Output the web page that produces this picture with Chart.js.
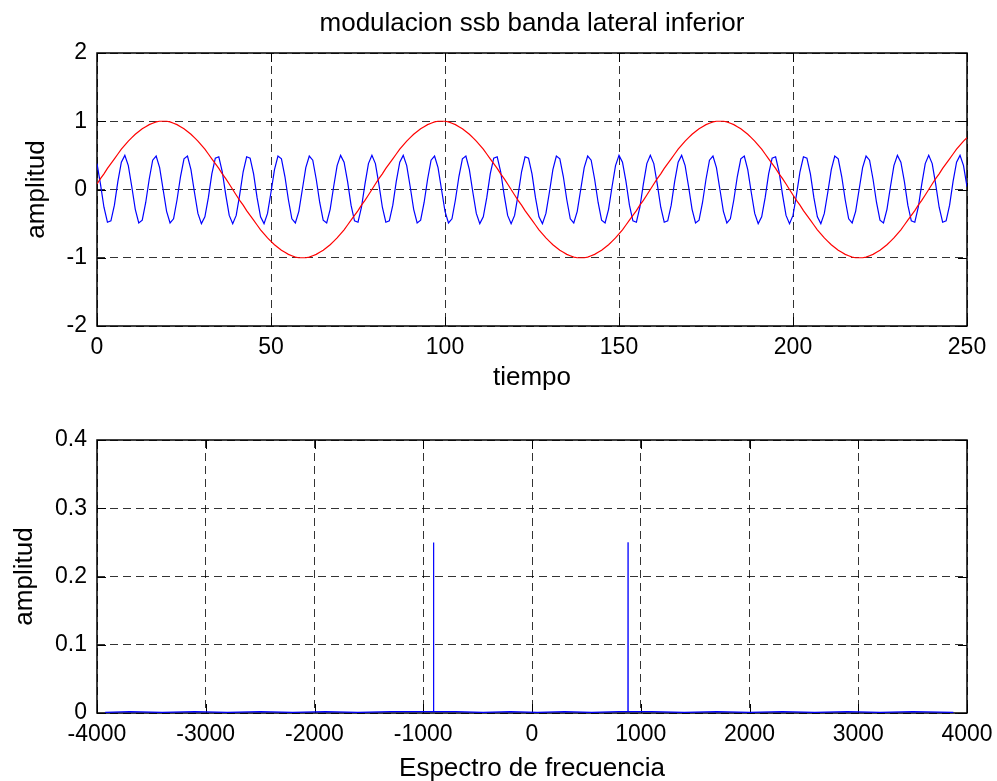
<!DOCTYPE html>
<html>
<head>
<meta charset="utf-8">
<script src="https://cdn.jsdelivr.net/npm/chart.js@4.4.0/dist/chart.umd.min.js"></script>
<style>
  html, body { margin: 0; background: #fff; overflow: hidden; }
  canvas { position: absolute; left: 0; }
  #senal { top: 0; }
  #espectro { top: 400px; }
</style>
</head>
<body>
<canvas id="senal" width="997" height="400"></canvas>
<canvas id="espectro" width="997" height="384"></canvas>
<script>
// muestras 0..250 de la senal modulada (azul)
const senalSSB = [
  0.38, 0.08, -0.26, -0.48, -0.46, -0.23, 0.12, 0.40, 0.50, 0.35,
  0.04, -0.29, -0.49, -0.45, -0.19, 0.15, 0.43, 0.49, 0.32, 0.00,
  -0.32, -0.49, -0.43, -0.15, 0.19, 0.45, 0.49, 0.29, -0.04, -0.35,
  -0.50, -0.40, -0.12, 0.23, 0.46, 0.48, 0.26, -0.08, -0.38, -0.50,
  -0.38, -0.08, 0.26, 0.48, 0.46, 0.23, -0.12, -0.40, -0.50, -0.35,
  -0.04, 0.29, 0.49, 0.45, 0.19, -0.15, -0.43, -0.49, -0.32, 0.00,
  0.32, 0.49, 0.43, 0.15, -0.19, -0.45, -0.49, -0.29, 0.04, 0.35,
  0.50, 0.40, 0.12, -0.23, -0.46, -0.48, -0.26, 0.08, 0.38, 0.50,
  0.38, 0.08, -0.26, -0.48, -0.46, -0.23, 0.12, 0.40, 0.50, 0.35,
  0.04, -0.29, -0.49, -0.45, -0.19, 0.15, 0.43, 0.49, 0.32, 0.00,
  -0.32, -0.49, -0.43, -0.15, 0.19, 0.45, 0.49, 0.29, -0.04, -0.35,
  -0.50, -0.40, -0.12, 0.23, 0.46, 0.48, 0.26, -0.08, -0.38, -0.50,
  -0.38, -0.08, 0.26, 0.48, 0.46, 0.23, -0.12, -0.40, -0.50, -0.35,
  -0.04, 0.29, 0.49, 0.45, 0.19, -0.15, -0.43, -0.49, -0.32, 0.00,
  0.32, 0.49, 0.43, 0.15, -0.19, -0.45, -0.49, -0.29, 0.04, 0.35,
  0.50, 0.40, 0.12, -0.23, -0.46, -0.48, -0.26, 0.08, 0.38, 0.50,
  0.38, 0.08, -0.26, -0.48, -0.46, -0.23, 0.12, 0.40, 0.50, 0.35,
  0.04, -0.29, -0.49, -0.45, -0.19, 0.15, 0.43, 0.49, 0.32, 0.00,
  -0.32, -0.49, -0.43, -0.15, 0.19, 0.45, 0.49, 0.29, -0.04, -0.35,
  -0.50, -0.40, -0.12, 0.23, 0.46, 0.48, 0.26, -0.08, -0.38, -0.50,
  -0.38, -0.08, 0.26, 0.48, 0.46, 0.23, -0.12, -0.40, -0.50, -0.35,
  -0.04, 0.29, 0.49, 0.45, 0.19, -0.15, -0.43, -0.49, -0.32, 0.00,
  0.32, 0.49, 0.43, 0.15, -0.19, -0.45, -0.49, -0.29, 0.04, 0.35,
  0.50, 0.40, 0.12, -0.23, -0.46, -0.48, -0.26, 0.08, 0.38, 0.50,
  0.38, 0.08, -0.26, -0.48, -0.46, -0.23, 0.12, 0.40, 0.50, 0.35,
  0.04
];

// mensaje (rojo), mismas muestras
const mensaje = [
  0.08, 0.16, 0.23, 0.31, 0.38, 0.45, 0.52, 0.59, 0.65, 0.71,
  0.76, 0.81, 0.85, 0.89, 0.92, 0.95, 0.97, 0.99, 1.00, 1.00,
  1.00, 0.99, 0.97, 0.95, 0.92, 0.89, 0.85, 0.81, 0.76, 0.71,
  0.65, 0.59, 0.52, 0.45, 0.38, 0.31, 0.23, 0.16, 0.08, 0.00,
  -0.08, -0.16, -0.23, -0.31, -0.38, -0.45, -0.52, -0.59, -0.65, -0.71,
  -0.76, -0.81, -0.85, -0.89, -0.92, -0.95, -0.97, -0.99, -1.00, -1.00,
  -1.00, -0.99, -0.97, -0.95, -0.92, -0.89, -0.85, -0.81, -0.76, -0.71,
  -0.65, -0.59, -0.52, -0.45, -0.38, -0.31, -0.23, -0.16, -0.08, 0.00,
  0.08, 0.16, 0.23, 0.31, 0.38, 0.45, 0.52, 0.59, 0.65, 0.71,
  0.76, 0.81, 0.85, 0.89, 0.92, 0.95, 0.97, 0.99, 1.00, 1.00,
  1.00, 0.99, 0.97, 0.95, 0.92, 0.89, 0.85, 0.81, 0.76, 0.71,
  0.65, 0.59, 0.52, 0.45, 0.38, 0.31, 0.23, 0.16, 0.08, 0.00,
  -0.08, -0.16, -0.23, -0.31, -0.38, -0.45, -0.52, -0.59, -0.65, -0.71,
  -0.76, -0.81, -0.85, -0.89, -0.92, -0.95, -0.97, -0.99, -1.00, -1.00,
  -1.00, -0.99, -0.97, -0.95, -0.92, -0.89, -0.85, -0.81, -0.76, -0.71,
  -0.65, -0.59, -0.52, -0.45, -0.38, -0.31, -0.23, -0.16, -0.08, 0.00,
  0.08, 0.16, 0.23, 0.31, 0.38, 0.45, 0.52, 0.59, 0.65, 0.71,
  0.76, 0.81, 0.85, 0.89, 0.92, 0.95, 0.97, 0.99, 1.00, 1.00,
  1.00, 0.99, 0.97, 0.95, 0.92, 0.89, 0.85, 0.81, 0.76, 0.71,
  0.65, 0.59, 0.52, 0.45, 0.38, 0.31, 0.23, 0.16, 0.08, 0.00,
  -0.08, -0.16, -0.23, -0.31, -0.38, -0.45, -0.52, -0.59, -0.65, -0.71,
  -0.76, -0.81, -0.85, -0.89, -0.92, -0.95, -0.97, -0.99, -1.00, -1.00,
  -1.00, -0.99, -0.97, -0.95, -0.92, -0.89, -0.85, -0.81, -0.76, -0.71,
  -0.65, -0.59, -0.52, -0.45, -0.38, -0.31, -0.23, -0.16, -0.08, 0.00,
  0.08, 0.16, 0.23, 0.31, 0.38, 0.45, 0.52, 0.59, 0.65, 0.71,
  0.76
];

// espectro: frecuencia (Hz) y amplitud
const specFreq = [
  -3925, -3700, -3400, -3100, -2800, -2500, -2200, -1900, -1600, -1300,
  -1050, -906, -905, -904, -700, -450, -200, 50, 300, 550,
  800, 882, 883, 884, 1100, 1400, 1700, 2000, 2300, 2600,
  2900, 3200, 3500, 3875
];
const specAmp = [
  0.001, 0.002, 0.001, 0.002, 0.001, 0.002, 0.001, 0.002, 0.001, 0.002,
  0.002, 0.002, 0.25, 0.002, 0.002, 0.001, 0.002, 0.001, 0.002, 0.001,
  0.002, 0.002, 0.25, 0.002, 0.002, 0.001, 0.002, 0.001, 0.002, 0.001,
  0.002, 0.001, 0.002, 0.001
];

const tiempoTicks = [0, 50, 100, 150, 200, 250];
const ampTicks = [-2, -1, 0, 1, 2];
const freqTicks = [-4000, -3000, -2000, -1000, 0, 1000, 2000, 3000, 4000];
const specTicks = [0, 0.1, 0.2, 0.3, 0.4];

Chart.defaults.font.family = '"Liberation Sans", Arial, Helvetica, sans-serif';
Chart.defaults.font.size = 23;
Chart.defaults.color = '#000';

const fuenteTitulo = { size: 26, weight: 'normal' };

// caja negra y marcas de division hacia adentro, estilo matlab
const marcoEjes = {
  id: 'marcoEjes',
  beforeDatasetsDraw(chart) {
    const { ctx, chartArea: a, scales: { x, y } } = chart;
    const largo = 9;
    ctx.save();
    ctx.strokeStyle = '#000';
    ctx.lineWidth = 1;
    ctx.beginPath();
    x.ticks.forEach(t => {
      const px = Math.round(x.getPixelForValue(t.value)) + 0.5;
      ctx.moveTo(px, a.bottom); ctx.lineTo(px, a.bottom - largo);
      ctx.moveTo(px, a.top); ctx.lineTo(px, a.top + largo);
    });
    y.ticks.forEach(t => {
      const py = Math.round(y.getPixelForValue(t.value)) + 0.5;
      ctx.moveTo(a.left, py); ctx.lineTo(a.left + largo, py);
      ctx.moveTo(a.right, py); ctx.lineTo(a.right - largo, py);
    });
    ctx.stroke();
    ctx.lineWidth = 1.5;
    ctx.strokeRect(a.left, a.top, a.right - a.left, a.bottom - a.top);
    ctx.restore();
  }
};

function ejeX(min, max, ticks, titulo, alto, padTitulo) {
  return {
    type: 'linear', min, max,
    afterBuildTicks: s => { s.ticks = ticks.map(v => ({ value: v })); },
    afterFit: s => { s.height = alto; s.paddingLeft = 0; s.paddingRight = 0; },
    ticks: { padding: 8, maxRotation: 0, autoSkip: false, callback: v => String(v) },
    grid: { color: 'rgba(0,0,0,0.8)', lineWidth: 1, drawTicks: false },
    border: { display: false, dash: [8, 5] },
    title: { display: true, text: titulo, font: fuenteTitulo, padding: { top: 0, bottom: padTitulo } }
  };
}

function ejeY(min, max, ticks, padTitulo) {
  return {
    min, max,
    afterBuildTicks: s => { s.ticks = ticks.map(v => ({ value: v })); },
    afterFit: s => { s.width = 97; s.paddingTop = 0; s.paddingBottom = 0; },
    ticks: { padding: 10, autoSkip: false, callback: v => String(v) },
    grid: { color: 'rgba(0,0,0,0.8)', lineWidth: 1, drawTicks: false },
    border: { display: false, dash: [8, 5] },
    title: { display: true, text: 'amplitud', font: fuenteTitulo, padding: { top: padTitulo, bottom: 0 } }
  };
}

const comunes = {
  responsive: false,
  animation: false,
  devicePixelRatio: 1,
  elements: { point: { radius: 0 }, line: { tension: 0 } },
  plugins: { legend: { display: false }, tooltip: { enabled: false } }
};

new Chart(document.getElementById('senal'), {
  type: 'line',
  data: {
    datasets: [
      { label: 'mensaje', data: mensaje.map((v, i) => ({ x: i, y: v })), borderColor: '#ff0000', borderWidth: 1.2 },
      { label: 'ssb', data: senalSSB.map((v, i) => ({ x: i, y: v })), borderColor: '#0000ff', borderWidth: 1.2 }
    ]
  },
  options: {
    ...comunes,
    layout: { padding: { left: 0, right: 30, top: 0, bottom: 0 } },
    plugins: {
      ...comunes.plugins,
      title: {
        display: true,
        fullSize: false,
        text: 'modulacion ssb banda lateral inferior',
        font: fuenteTitulo,
        padding: { top: 8.4, bottom: 13.4 }
      }
    },
    scales: {
      x: ejeX(0, 250, tiempoTicks, 'tiempo', 74, 6.4),
      y: ejeY(-2, 2, ampTicks, 21)
    }
  },
  plugins: [marcoEjes]
});

new Chart(document.getElementById('espectro'), {
  type: 'line',
  data: {
    datasets: [
      { label: 'espectro', data: specFreq.map((f, i) => ({ x: f, y: specAmp[i] })), borderColor: '#0000ff', borderWidth: 1.2 }
    ]
  },
  options: {
    ...comunes,
    layout: { padding: { left: 0, right: 30, top: 40, bottom: 0 } },
    scales: {
      x: ejeX(-4000, 4000, freqTicks, 'Espectro de frecuencia', 71, 0),
      y: ejeY(0, 0.4, specTicks, 9.5)
    }
  },
  plugins: [marcoEjes]
});
</script>
</body>
</html>
